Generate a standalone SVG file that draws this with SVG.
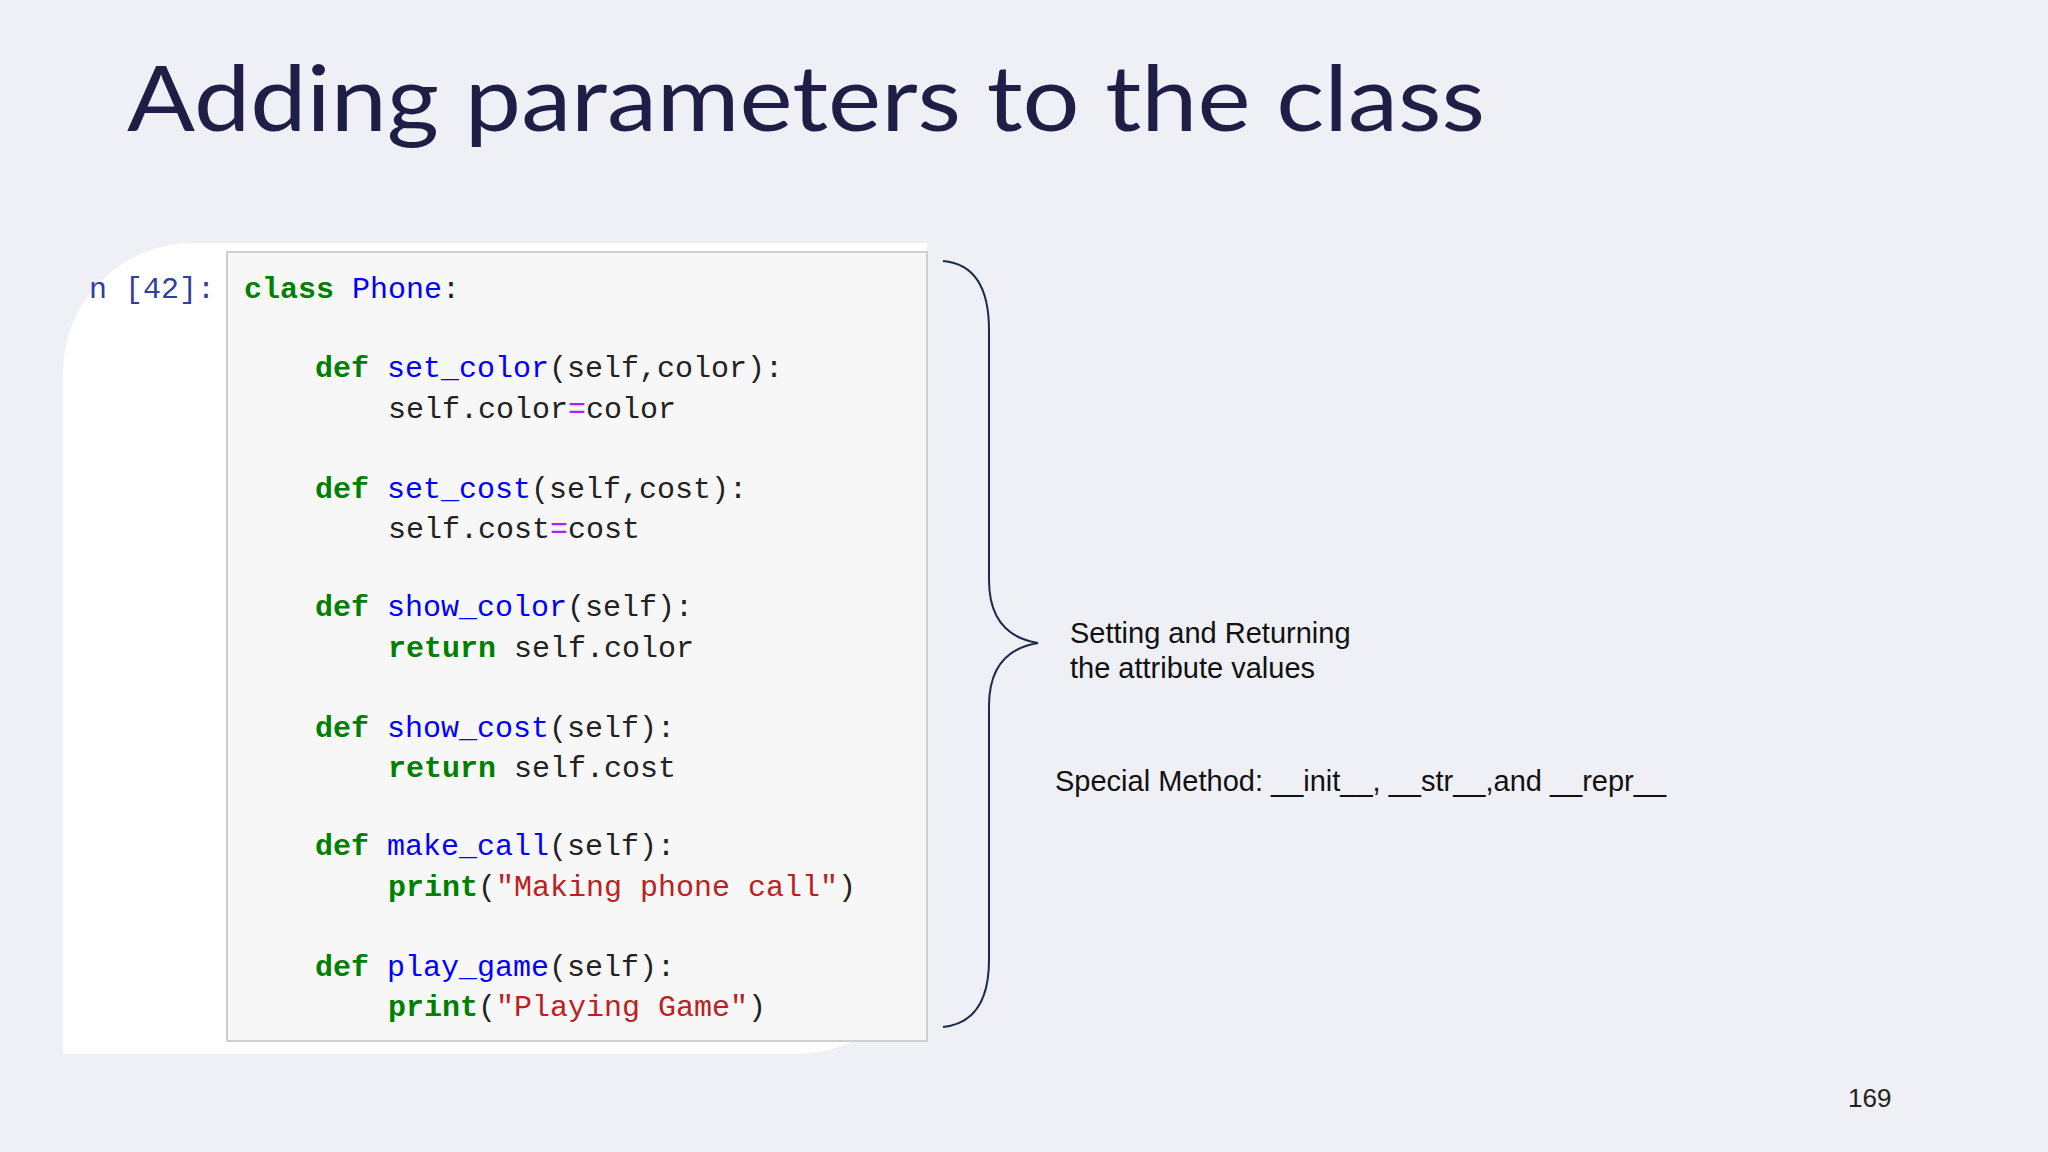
<svg xmlns="http://www.w3.org/2000/svg" width="2048" height="1152" viewBox="0 0 2048 1152">
<style>
.code{font-family:"Liberation Mono","DejaVu Sans Mono",monospace;font-size:30px;fill:#222}
.k{fill:#008000;font-weight:bold}
.f{fill:#0000ff}
.s{fill:#ba2121}
.o{fill:#aa22ff}
.t{font-family:"Liberation Sans",Arial,sans-serif;font-size:29px;fill:#111}
</style>
<rect width="2048" height="1152" fill="#eff0f5"/>
<g id="title"><text x="127" y="131" font-family="Lato,'Liberation Sans',sans-serif" font-size="92" fill="#1e1e46" textLength="1358" lengthAdjust="spacingAndGlyphs">Adding parameters to the class</text></g>
<g id="codeimage">
<path d="M193 243 H927 V924 A130 130 0 0 1 797 1054 H63 V373 A130 130 0 0 1 193 243 Z" fill="#ffffff"/>
<rect x="227" y="252" width="700" height="789" fill="#f7f7f7" stroke="#cfcfcf" stroke-width="2"/>
<text class="code" x="89" y="298" fill="#303f9f" style="fill:#303f9f">n [42]:</text>
<text class="code" x="244" y="298"><tspan class="k">class</tspan> <tspan class="f">Phone</tspan>:</text>
<text class="code" x="315" y="377"><tspan class="k">def</tspan> <tspan class="f">set_color</tspan>(self,color):</text>
<text class="code" x="388" y="418">self.color<tspan class="o">=</tspan>color</text>
<text class="code" x="315" y="498"><tspan class="k">def</tspan> <tspan class="f">set_cost</tspan>(self,cost):</text>
<text class="code" x="388" y="538">self.cost<tspan class="o">=</tspan>cost</text>
<text class="code" x="315" y="616"><tspan class="k">def</tspan> <tspan class="f">show_color</tspan>(self):</text>
<text class="code" x="388" y="657"><tspan class="k">return</tspan> self.color</text>
<text class="code" x="315" y="737"><tspan class="k">def</tspan> <tspan class="f">show_cost</tspan>(self):</text>
<text class="code" x="388" y="777"><tspan class="k">return</tspan> self.cost</text>
<text class="code" x="315" y="855"><tspan class="k">def</tspan> <tspan class="f">make_call</tspan>(self):</text>
<text class="code" x="388" y="896"><tspan class="k">print</tspan>(<tspan class="s">"Making phone call"</tspan>)</text>
<text class="code" x="315" y="976"><tspan class="k">def</tspan> <tspan class="f">play_game</tspan>(self):</text>
<text class="code" x="388" y="1016"><tspan class="k">print</tspan>(<tspan class="s">"Playing Game"</tspan>)</text>
</g>
<g id="connectors">
<path d="M943 261 Q989 265 989 330 V580 Q989 635 1038 643 Q989 651 989 706 V960 Q989 1022 943 1027" fill="none" stroke="#1e2a4a" stroke-width="2"/>
</g>
<g id="labels">
<text class="t" x="1070" y="643">Setting and Returning</text>
<text class="t" x="1070" y="678">the attribute values</text>
<text class="t" x="1055" y="791">Special Method: __init__, __str__,and __repr__</text>
<text x="1848" y="1107" font-family="'Liberation Sans',sans-serif" font-size="26" fill="#222">169</text>
</g>
</svg>
